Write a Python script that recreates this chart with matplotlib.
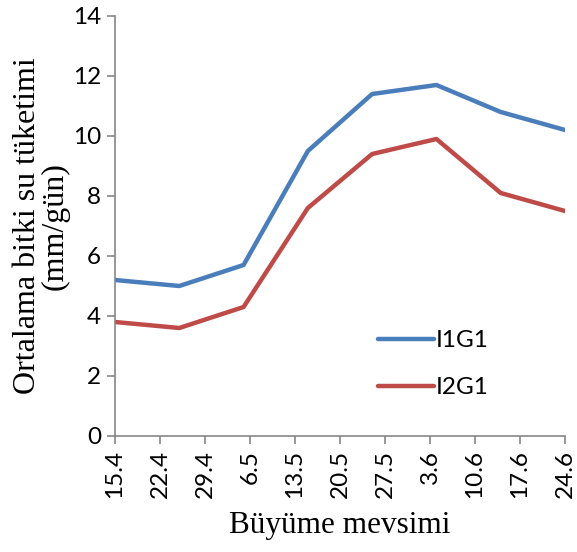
import matplotlib.pyplot as plt

# days since 15 April, one reading every 10 days
days = [0, 10, 20, 30, 40, 50, 60, 70]
i1g1 = [5.2, 5.0, 5.7, 9.5, 11.4, 11.7, 10.8, 10.2]
i2g1 = [3.8, 3.6, 4.3, 7.6, 9.4, 9.9, 8.1, 7.5]

tick_days = [0, 7, 14, 21, 28, 35, 42, 49, 56, 63, 70]
tick_labels = ['15.4', '22.4', '29.4', '6.5', '13.5', '20.5', '27.5', '3.6', '10.6', '17.6', '24.6']

fig = plt.figure(figsize=(5.77, 5.52), dpi=100)
ax = fig.add_axes([115 / 577, 1 - 436 / 552, 450 / 577, 420 / 552])

ax.plot(days, i1g1, color='#4A7EBB', lw=3.2, label='I1G1', solid_capstyle='round')
ax.plot(days, i2g1, color='#BE4B48', lw=3.2, label='I2G1', solid_capstyle='round')

ax.set_xlim(0, 70)
ax.set_ylim(0, 14)
ax.set_yticks(range(0, 15, 2))
ax.set_xticks(tick_days)
ax.set_xticklabels(tick_labels, rotation=90)

for s in ['top', 'right']:
    ax.spines[s].set_visible(False)
for s in ['left', 'bottom']:
    ax.spines[s].set_color('#868686')
    ax.spines[s].set_linewidth(1.2)
    ax.spines[s].set_clip_on(False)

ax.tick_params(axis='both', direction='out', length=6, width=1.2, color='#868686',
               labelsize=17.5, pad=4)
for lab in ax.get_xticklabels() + ax.get_yticklabels():
    lab.set_fontfamily('Lato')

ax.set_ylabel('Ortalama bitki su tüketimi\n(mm/gün)', fontfamily='Liberation Serif',
              fontsize=23, linespacing=0.95, labelpad=2)
ax.set_xlabel('Büyüme mevsimi', fontfamily='Liberation Serif', fontsize=22.5, labelpad=9)

leg = ax.legend(loc='lower left', bbox_to_anchor=(0.535, 0.038), frameon=False,
                handlelength=2.3, handletextpad=0.1, labelspacing=1.07,
                prop={'family': 'Lato', 'size': 17.5})

fig.savefig('out.png', dpi=100)
